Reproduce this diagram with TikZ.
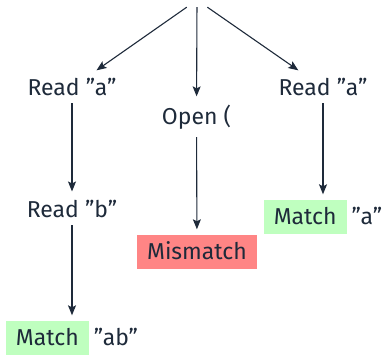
\documentclass[tikz,border=0pt]{standalone}
\usepackage{fontspec}
\setmainfont{Fira Sans}
\usetikzlibrary{arrows.meta}
\definecolor{ink}{HTML}{1E2A3A}
\definecolor{okgreen}{HTML}{BFFFBF}
\definecolor{badred}{HTML}{FF8585}
% coloured outcome tag with fixed height and side padding
\newcommand\tagbox[2]{{\setlength\fboxsep{0pt}\colorbox{#1}{\raisebox{0pt}[25pt][9.5pt]{\hspace{10pt}#2\hspace{10pt}}}}}
\begin{document}
\begin{tikzpicture}[x=1pt,y=-1pt,
  font=\fontsize{23}{27}\selectfont, text=ink,
  state/.style={inner xsep=0pt, inner ysep=7pt, anchor=base},
  result/.style={inner xsep=0pt, inner ysep=3pt, anchor=base},
  flow/.style={draw=ink, line width=1.1pt,
    -{Stealth[length=10pt,width=8pt,inset=2pt]}, shorten >=2pt}]
\useasboundingbox (0,0) rectangle (385,355);

\node[inner sep=0pt, minimum width=24pt, minimum height=14pt] (root) at (197,0) {};

\node[state] (ra1) at (72,96) {Read ”a”};
\node[state] (op)  at (196.5,125) {Open (};
\node[state] (ra2) at (323,96) {Read ”a”};
\node[state] (rb)  at (72,218) {Read ”b”};

\node[result] (mm) at (197,259.5) {\tagbox{badred}{Mismatch}};
\node[result] (m2) at (323,224.5) {\tagbox{okgreen}{Match}\hspace{5pt}”a”};
\node[result] (m1) at (72,345.5) {\tagbox{okgreen}{Match}\hspace{5pt}”ab”};

\draw[flow] (root) -- (ra1);
\draw[flow] (root) -- (op);
\draw[flow] (root) -- (ra2);
\draw[flow] (ra1) -- (rb);
\draw[flow] (rb) -- (m1);
\draw[flow] (op) -- (mm);
\draw[flow] (ra2) -- (m2);
\end{tikzpicture}
\end{document}
